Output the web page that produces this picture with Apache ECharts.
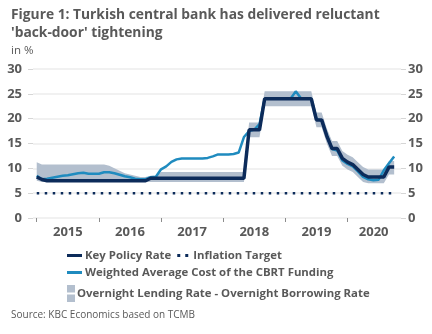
<!DOCTYPE html>
<html>
<head>
<meta charset="utf-8">
<script src="https://cdn.jsdelivr.net/npm/echarts@6/dist/echarts.min.js"></script>
<style>
html,body{margin:0;padding:0;background:#fff;}
#c{width:432px;height:334px;}
</style>
</head>
<body>
<div id="c"></div>
<script>
// Monthly observations, Jan 2015 .. Oct 2020
var startYear = 2015;
var yearTicks = [2015, 2016, 2017, 2018, 2019, 2020];
var yearLabels = ['2015', '2016', '2017', '2018', '2019', '2020'];
var yTicks = [0, 5, 10, 15, 20, 25, 30];

var keyPolicyRate = [
  8.25, 7.75, 7.5, 7.5, 7.5, 7.5, 7.5, 7.5, 7.5, 7.5, 7.5, 7.5,          // 2015
  7.5, 7.5, 7.5, 7.5, 7.5, 7.5, 7.5, 7.5, 7.5, 7.5, 8.0, 8.0,            // 2016
  8.0, 8.0, 8.0, 8.0, 8.0, 8.0, 8.0, 8.0, 8.0, 8.0, 8.0, 8.0,            // 2017
  8.0, 8.0, 8.0, 8.0, 8.0, 17.75, 17.75, 17.75, 24, 24, 24, 24,         // 2018
  24, 24, 24, 24, 24, 24, 19.75, 19.75, 16.5, 14, 14, 12,               // 2019
  11.25, 10.75, 9.75, 8.75, 8.25, 8.25, 8.25, 8.25, 10.25, 10.25        // 2020
];
var inflationTarget = [
  5, 5, 5, 5, 5, 5, 5, 5, 5, 5, 5, 5,
  5, 5, 5, 5, 5, 5, 5, 5, 5, 5, 5, 5,
  5, 5, 5, 5, 5, 5, 5, 5, 5, 5, 5, 5,
  5, 5, 5, 5, 5, 5, 5, 5, 5, 5, 5, 5,
  5, 5, 5, 5, 5, 5, 5, 5, 5, 5, 5, 5,
  5, 5, 5, 5, 5, 5, 5, 5, 5, 5
];
var wacf = [
  8.5, 7.8, 7.9, 8.1, 8.3, 8.5, 8.6, 8.8, 9.0, 9.1, 8.9, 8.9,           // 2015
  8.9, 9.2, 9.2, 9.0, 8.7, 8.4, 8.2, 7.9, 7.8, 7.8, 8.2, 8.3,           // 2016
  9.8, 10.4, 11.3, 11.8, 12.0, 12.0, 12.0, 12.0, 12.0, 12.1, 12.4, 12.8, // 2017
  12.8, 12.8, 12.9, 13.2, 16.3, 17.5, 17.8, 18.9, 24, 24, 24, 24,       // 2018
  24, 24, 25.5, 24.1, 24, 24, 19.9, 19.6, 16.7, 13.9, 13.6, 11.6,       // 2019
  10.9, 10.4, 9.4, 8.3, 7.8, 7.6, 7.7, 9.6, 11.0, 12.4                  // 2020
];
var overnightBorrowing = [
  7.5, 7.25, 7.25, 7.25, 7.25, 7.25, 7.25, 7.25, 7.25, 7.25, 7.25, 7.25,
  7.25, 7.25, 7.25, 7.25, 7.25, 7.25, 7.25, 7.25, 7.25, 7.25, 7.25, 7.25,
  7.25, 7.25, 7.25, 7.25, 7.25, 7.25, 7.25, 7.25, 7.25, 7.25, 7.25, 7.25,
  7.25, 7.25, 7.25, 7.25, 7.25, 16.25, 16.25, 16.25, 22.5, 22.5, 22.5, 22.5,
  22.5, 22.5, 22.5, 22.5, 22.5, 22.5, 18.25, 18.25, 15.0, 12.5, 12.5, 10.5,
  9.75, 9.25, 8.25, 7.25, 7.0, 7.0, 7.0, 7.0, 8.75, 8.75
];
var overnightLending = [
  11.25, 10.75, 10.75, 10.75, 10.75, 10.75, 10.75, 10.75, 10.75, 10.75, 10.75, 10.75,
  10.75, 10.75, 10.5, 10.0, 9.5, 9.0, 8.75, 8.5, 8.25, 8.25, 8.5, 8.5,
  9.25, 9.25, 9.25, 9.25, 9.25, 9.25, 9.25, 9.25, 9.25, 9.25, 9.25, 9.25,
  9.25, 9.25, 9.25, 9.25, 9.25, 19.25, 19.25, 19.25, 25.5, 25.5, 25.5, 25.5,
  25.5, 25.5, 25.5, 25.5, 25.5, 25.5, 21.25, 21.25, 18.0, 15.5, 15.5, 13.5,
  12.75, 12.25, 11.25, 10.25, 9.75, 9.75, 9.75, 9.75, 11.5, 11.5
];

var NAVY = '#0c2b5a', BLUE = '#1f8bbf', BAND = '#b3bfce', GREY = '#595959';
var FONT = 'Open Sans';

function monthX(i) { return startYear + i / 12; }
function pairs(arr) {
  return arr.map(function (v, i) { return [monthX(i), v]; });
}
var bandData = overnightLending.map(function (v, i) { return [monthX(i), overnightBorrowing[i], v]; });
var labelPos = yearTicks.map(function (y, i) { return i < yearTicks.length - 1 ? y + 0.5 : y + 0.42; });

function renderBand(params, api) {
  if (params.dataIndex !== 0) return null;
  var upper = [], lower = [];
  for (var i = 0; i < bandData.length; i++) {
    upper.push(api.coord([bandData[i][0], bandData[i][2]]));
    lower.unshift(api.coord([bandData[i][0], bandData[i][1]]));
  }
  return {
    type: 'polygon',
    shape: {points: upper.concat(lower)},
    style: {fill: BAND, stroke: null}
  };
}

var chart = echarts.init(document.getElementById('c'), null, {renderer: 'canvas'});
var yAxisBase = {
  type: 'value', min: 0, max: 30, interval: 5,
  axisLine: {show: false},
  axisTick: {show: true, length: 5, lineStyle: {color: '#d6d6d6', width: 1}},
  axisLabel: {color: GREY, fontFamily: FONT, fontWeight: 'bold', fontSize: 13}
};
var legendText = {color: GREY, fontFamily: FONT, fontWeight: 'bold', fontSize: 11.4};
chart.setOption({
  animation: false,
  title: {
    text: "Figure 1: Turkish central bank has delivered reluctant\n'back-door' tightening",
    subtext: 'in %',
    left: 6, top: 1, itemGap: 3,
    textStyle: {color: GREY, fontFamily: FONT, fontWeight: 'bold', fontSize: 13.8, lineHeight: 18},
    subtextStyle: {color: GREY, fontFamily: FONT, fontSize: 11.5}
  },
  grid: {left: 33, right: 31, top: 69, bottom: 116, containLabel: false},
  xAxis: {
    type: 'value', min: 2014.94, max: 2020.86,
    axisLine: {show: false},
    splitLine: {show: false},
    axisTick: {show: true, length: 4, customValues: yearTicks, lineStyle: {color: '#8c8c8c', width: 1}},
    axisLabel: {
      customValues: labelPos, margin: 8,
      formatter: function (v) { return yearLabels[yearTicks.indexOf(Math.floor(v + 1e-6))]; },
      color: GREY, fontFamily: FONT, fontWeight: 'bold', fontSize: 13
    }
  },
  yAxis: [
    Object.assign({}, yAxisBase, {position: 'left', splitLine: {show: true, lineStyle: {color: '#ececec', width: 1.5}},
      axisLabel: Object.assign({}, yAxisBase.axisLabel, {margin: 11})}),
    Object.assign({}, yAxisBase, {position: 'right', splitLine: {show: false},
      axisLabel: Object.assign({}, yAxisBase.axisLabel, {margin: 7})})
  ],
  legend: [
    {
      left: 62, top: 245, itemGap: 6, itemWidth: 15, itemHeight: 3,
      textStyle: Object.assign({padding: [0, 0, 0, -2]}, legendText),
      data: [
        {name: 'Key Policy Rate', icon: 'rect'},
        {name: 'Inflation Target', icon: 'path://M0,0H3V3H0Z M8,0H11V3H8Z'}
      ]
    },
    {
      left: 62, top: 262, itemWidth: 15, itemHeight: 3,
      textStyle: Object.assign({padding: [0, 0, 0, -2]}, legendText),
      data: [{name: 'Weighted Average Cost of the CBRT Funding', icon: 'rect'}]
    },
    {
      left: 62, top: 280, itemWidth: 8, itemHeight: 17,
      textStyle: Object.assign({padding: [0, 0, 0, -3]}, legendText),
      data: [{name: 'Overnight Lending Rate - Overnight Borrowing Rate', icon: 'path://M0,0H8V7.5H0Z M0,9.5H8V17H0Z'}]
    }
  ],
  graphic: [{
    type: 'text', left: 11, top: 310,
    style: {text: 'Source: KBC Economics based on TCMB', fill: GREY, font: '10px "' + FONT + '"'}
  }],
  series: [
    {
      name: 'Overnight Lending Rate - Overnight Borrowing Rate', type: 'custom',
      data: bandData, renderItem: renderBand, itemStyle: {color: BAND},
      encode: {x: 0, y: [1, 2]}, silent: true, z: 1, clip: true
    },
    {
      name: 'Inflation Target', type: 'line', data: pairs(inflationTarget), symbol: 'none',
      itemStyle: {color: NAVY},
      lineStyle: {color: NAVY, width: 2.5, type: [2.5, 5.5], cap: 'butt'}, z: 2
    },
    {
      name: 'Weighted Average Cost of the CBRT Funding', type: 'line', data: pairs(wacf), symbol: 'none',
      itemStyle: {color: BLUE}, lineStyle: {color: BLUE, width: 2.5}, z: 3
    },
    {
      name: 'Key Policy Rate', type: 'line', data: pairs(keyPolicyRate), symbol: 'none',
      itemStyle: {color: NAVY}, lineStyle: {color: NAVY, width: 3.5}, z: 4
    }
  ]
});
</script>
</body>
</html>
